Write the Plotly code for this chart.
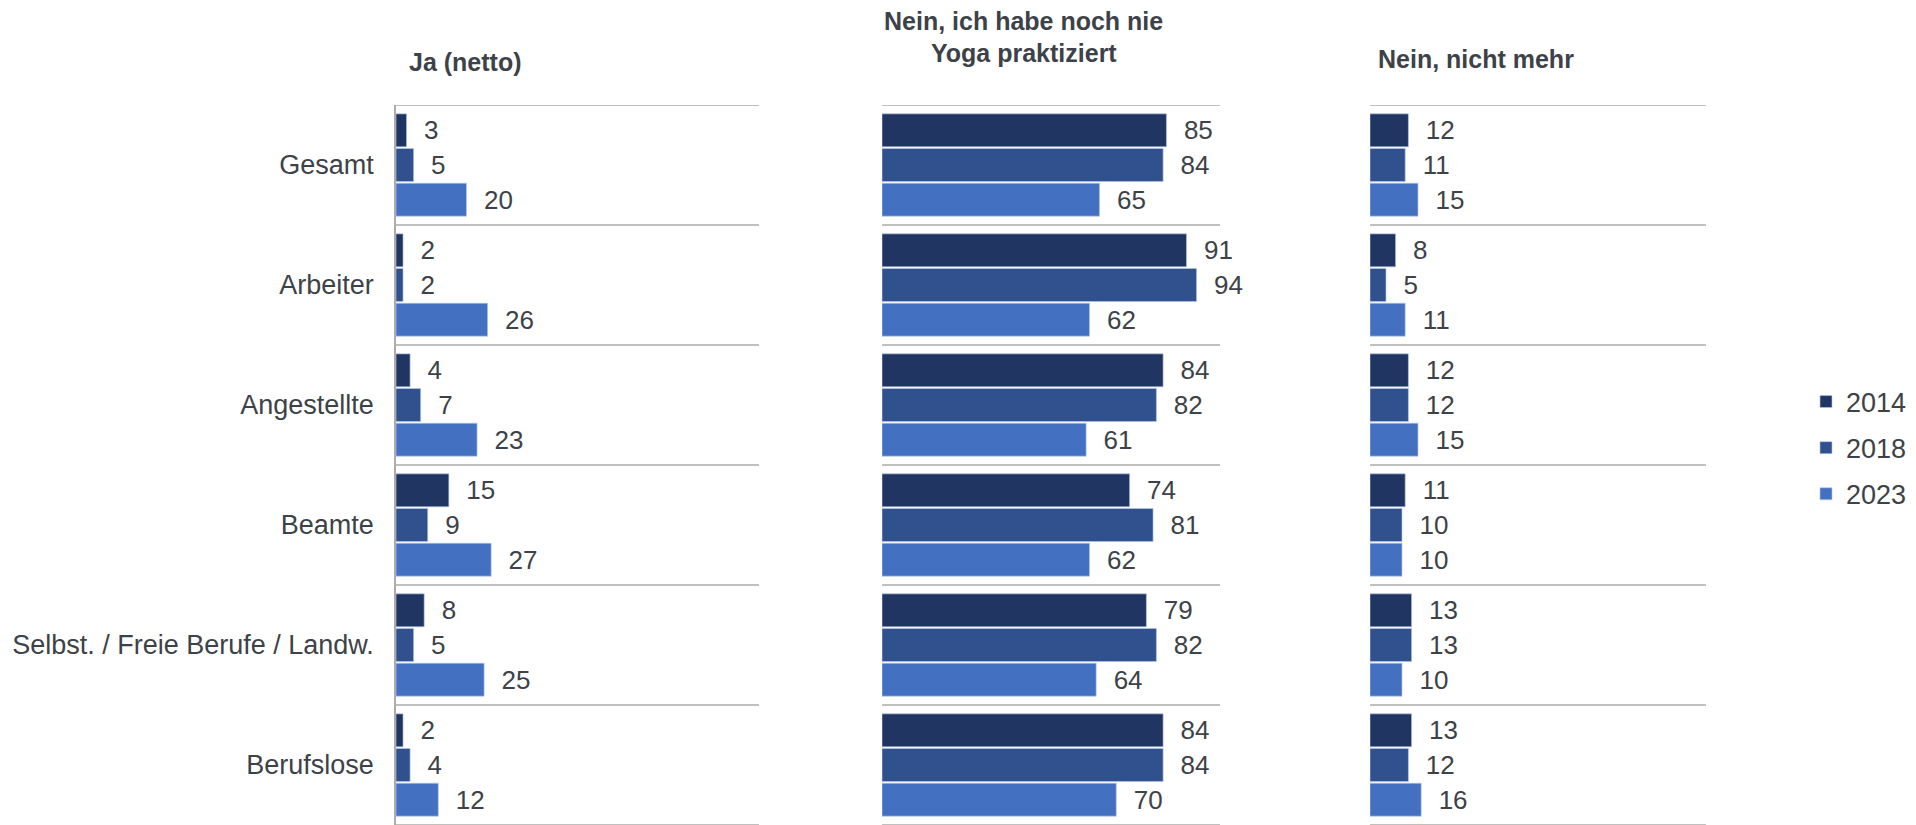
import plotly.graph_objects as go

categories = ["Gesamt", "Arbeiter", "Angestellte", "Beamte",
              "Selbst. / Freie Berufe / Landw.", "Berufslose"]
years = ["2014", "2018", "2023"]

ja_2014 = [3, 2, 4, 15, 8, 2]
ja_2018 = [5, 2, 7, 9, 5, 4]
ja_2023 = [20, 26, 23, 27, 25, 12]

nie_2014 = [85, 91, 84, 74, 79, 84]
nie_2018 = [84, 94, 82, 81, 82, 84]
nie_2023 = [65, 62, 61, 62, 64, 70]

mehr_2014 = [12, 8, 12, 11, 13, 13]
mehr_2018 = [11, 5, 12, 10, 13, 12]
mehr_2023 = [15, 11, 15, 10, 10, 16]

panel_titles = [["Ja (netto)"],
                ["Nein, ich habe noch nie", "Yoga praktiziert"],
                ["Nein, nicht mehr"]]
panels = [
    [ja_2014, ja_2018, ja_2023],
    [nie_2014, nie_2018, nie_2023],
    [mehr_2014, mehr_2018, mehr_2023],
]
colors = ["#213562", "#30508E", "#4470C2"]

OFF = 8                      # page body margin
W, H = 1916 - OFF, 825 - OFF
TOP = 105 - OFF
PH = H - TOP
FONT = "Liberation Sans, Arial, sans-serif"
TXT = "#3D4248"
GRID = "#ABABAB"

# page-pixel geometry of each panel (left, right) and x range
px_dom = [(396, 759), (882, 1220), (1370, 1706)]
x_ranges = [[0, 103], [0, 101], [0, 105]]
# title centre x and line centre y (page pixels)
title_cx = [465, 1024, 1476]
title_ys = [[62], [21, 53], [59]]

fig = go.Figure()

for p, series in enumerate(panels):
    xa = "x" if p == 0 else f"x{p+1}"
    ya = "y" if p == 0 else f"y{p+1}"
    for k, vals in enumerate(series):
        fig.add_trace(go.Bar(
            y=categories, x=vals, orientation="h",
            name=years[k], legendgroup=years[k], showlegend=(p == 0),
            marker=dict(color=colors[k], line=dict(width=0.8, color="rgba(180,200,235,0.8)")),
            text=["  " + str(v) for v in vals], textposition="outside",
            textfont=dict(family=FONT, size=26, color=TXT),
            constraintext="none", cliponaxis=False,
            xaxis=xa, yaxis=ya,
        ))

layout = dict(
    width=W, height=H,
    margin=dict(l=0, r=0, t=TOP, b=0, pad=0),
    paper_bgcolor="white", plot_bgcolor="white",
    barmode="group", bargap=0.133, bargroupgap=0.05,
    font=dict(family=FONT, size=26, color=TXT),
    legend=dict(x=(1806 - OFF) / W, y=(825 - 448) / PH, xanchor="left", yanchor="middle",
                font=dict(family=FONT, size=27, color=TXT), tracegroupgap=8,
                itemwidth=30, bgcolor="rgba(0,0,0,0)"),
    showlegend=True,
)

shapes = []
annotations = []
for p in range(3):
    xkey = "xaxis" if p == 0 else f"xaxis{p+1}"
    ykey = "yaxis" if p == 0 else f"yaxis{p+1}"
    yname = "y" if p == 0 else f"y{p+1}"
    d0, d1 = px_dom[p]
    layout[xkey] = dict(domain=[(d0 - OFF) / W, (d1 - OFF) / W], range=x_ranges[p],
                        visible=False, anchor=yname, fixedrange=True)
    layout[ykey] = dict(anchor="x" if p == 0 else f"x{p+1}",
                        range=[len(categories) - 0.5, -0.5],
                        showticklabels=(p == 0), ticks="",
                        showline=(p == 0), linecolor=GRID, linewidth=1.5,
                        showgrid=False, zeroline=False,
                        tickfont=dict(family=FONT, size=27, color=TXT),
                        ticklabelstandoff=15, fixedrange=True)
    xref = ("x" if p == 0 else f"x{p+1}") + " domain"
    for i in range(len(categories) + 1):
        shapes.append(dict(type="line", xref=xref, yref=yname,
                           x0=0, x1=1, y0=i - 0.5, y1=i - 0.5,
                           line=dict(color=GRID, width=1.5), layer="below"))
    for line, ty in zip(panel_titles[p], title_ys[p]):
        annotations.append(dict(
            text="<b>" + line + "</b>", xref="paper", yref="paper",
            x=(title_cx[p] - OFF) / W, xanchor="center",
            y=(825 - ty) / PH, yanchor="middle",
            showarrow=False, font=dict(family=FONT, size=25, color=TXT)))

layout["shapes"] = shapes
layout["annotations"] = annotations
fig.update_layout(**layout)

fig.write_html("out.html")
